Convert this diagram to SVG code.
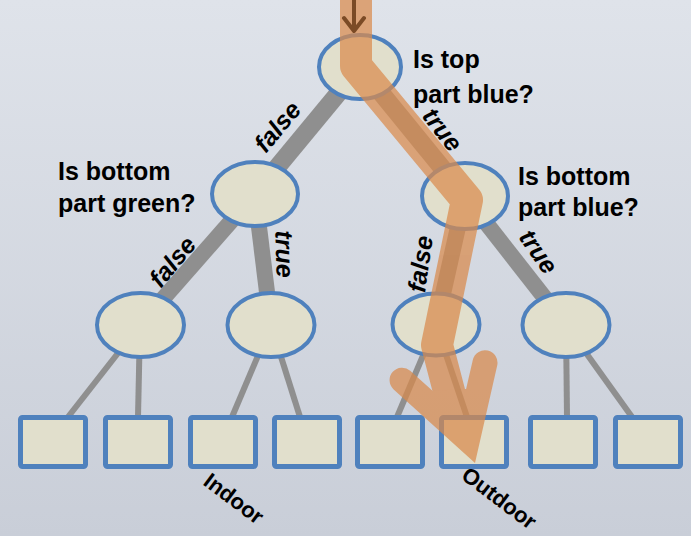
<svg xmlns="http://www.w3.org/2000/svg" width="691" height="536" viewBox="0 0 691 536">
<defs>
<linearGradient id="bg" x1="0" y1="0" x2="0" y2="1">
<stop offset="0" stop-color="#dfe3ea"/>
<stop offset="1" stop-color="#c9ced8"/>
</linearGradient>
<style>
.node{fill:#e1dfcc;stroke:#4f81bd;stroke-width:4}
.leaf{fill:#e1dfcc;stroke:#4f81bd;stroke-width:5}
.e1{stroke:#8f8f8f;stroke-width:18;fill:none}
.e2{stroke:#8f8f8f;stroke-width:16;fill:none}
.e3{stroke:#8f8f8f;stroke-width:6;fill:none}
.q{font-family:"Liberation Sans",Arial,sans-serif;font-weight:bold;font-size:25px;fill:#000}
.el{font-family:"Liberation Sans",Arial,sans-serif;font-weight:bold;font-style:italic;font-size:25px;text-anchor:middle;fill:#000}
.lab{font-family:"Liberation Sans",Arial,sans-serif;font-weight:bold;font-size:22px;fill:#000}
.hl{fill:#d98a4c}
</style>
</defs>
<rect x="0" y="0" width="691" height="536" fill="url(#bg)"/>

<g id="connectors">
<line class="e1" x1="360" y1="67" x2="255" y2="194"/>
<line class="e1" x1="360" y1="67" x2="465" y2="196"/>
<line class="e2" x1="255" y1="194" x2="140" y2="325"/>
<line class="e2" x1="255" y1="194" x2="271" y2="325"/>
<line class="e2" x1="465" y1="196" x2="436" y2="325"/>
<line class="e2" x1="465" y1="196" x2="566" y2="325"/>
<line class="e3" x1="140" y1="325" x2="68" y2="417"/>
<line class="e3" x1="140" y1="325" x2="138" y2="417"/>
<line class="e3" x1="271" y1="325" x2="232" y2="417"/>
<line class="e3" x1="271" y1="325" x2="300" y2="417"/>
<line class="e3" x1="436" y1="325" x2="397" y2="417"/>
<line class="e3" x1="436" y1="325" x2="467" y2="417"/>
<line class="e3" x1="566" y1="325" x2="567" y2="417"/>
<line class="e3" x1="566" y1="325" x2="632" y2="417"/>
</g>

<g id="root"><ellipse class="node" cx="360" cy="67" rx="41" ry="32"/>
<text class="q" x="413" y="68">Is top</text>
<text class="q" x="413" y="103">part blue?</text></g>
<g id="n-left"><ellipse class="node" cx="255" cy="194" rx="43" ry="32"/>
<text class="q" x="58" y="180">Is bottom</text>
<text class="q" x="58" y="212">part green?</text></g>
<g id="n-right"><ellipse class="node" cx="465" cy="196" rx="43" ry="33"/>
<text class="q" x="518" y="185">Is bottom</text>
<text class="q" x="518" y="216">part blue?</text></g>
<g id="n-ll"><ellipse class="node" cx="140.5" cy="325" rx="43.5" ry="32"/></g>
<g id="n-lr"><ellipse class="node" cx="271" cy="325" rx="43.5" ry="32"/></g>
<g id="n-rl"><ellipse class="node" cx="436" cy="324.5" rx="43.5" ry="31"/></g>
<g id="n-rr"><ellipse class="node" cx="566" cy="325" rx="43.5" ry="32"/></g>

<g id="leaf1"><rect class="leaf" x="20.5" y="417.5" width="65" height="49" rx="2"/></g>
<g id="leaf2"><rect class="leaf" x="105.5" y="417.5" width="65" height="49" rx="2"/></g>
<g id="leaf3"><rect class="leaf" x="190.5" y="417.5" width="65" height="49" rx="2"/>
<text class="lab" transform="translate(202,484) rotate(37)">Indoor</text></g>
<g id="leaf4"><rect class="leaf" x="274.5" y="417.5" width="65" height="49" rx="2"/></g>
<g id="leaf5"><rect class="leaf" x="357.5" y="417.5" width="65" height="49" rx="2"/></g>
<g id="leaf6"><rect class="leaf" x="441.5" y="417.5" width="65" height="49" rx="2"/>
<text class="lab" transform="translate(460,478) rotate(37)">Outdoor</text></g>
<g id="leaf7"><rect class="leaf" x="530.5" y="417.5" width="65" height="49" rx="2"/></g>
<g id="leaf8"><rect class="leaf" x="615.5" y="417.5" width="65" height="49" rx="2"/></g>

<g id="decision-path" opacity="0.72">
<path d="M356,0 L356,66 L467,200 L437,345 L450,395" fill="none" stroke="#d98a4c" stroke-width="32" stroke-linejoin="round"/>
<path class="hl" d="M475,463 L393.4,389.2 A12.5 12.5 0 0 1 410.2,370.7 L432.5,390.8 L466.1,389 L472.8,360 A12.5 12.5 0 0 1 497.2,365.5 Z"/>
</g>
<g id="start-arrow" stroke="#7b4b26" stroke-width="4" fill="none" stroke-linecap="round" stroke-linejoin="round">
<path d="M354,0 V30 M344,18 L354,31 L364,18"/>
</g>

<g id="edge-labels">
<text class="el" transform="translate(278,127) rotate(-50)" y="8">false</text>
<text class="el" transform="translate(442,130) rotate(52)" y="8">true</text>
<text class="el" transform="translate(173,262) rotate(-50)" y="8">false</text>
<text class="el" transform="translate(284,254) rotate(88)" y="8">true</text>
<text class="el" transform="translate(421,264) rotate(-82)" y="8">false</text>
<text class="el" transform="translate(538,252) rotate(55)" y="8">true</text>
</g>
</svg>
